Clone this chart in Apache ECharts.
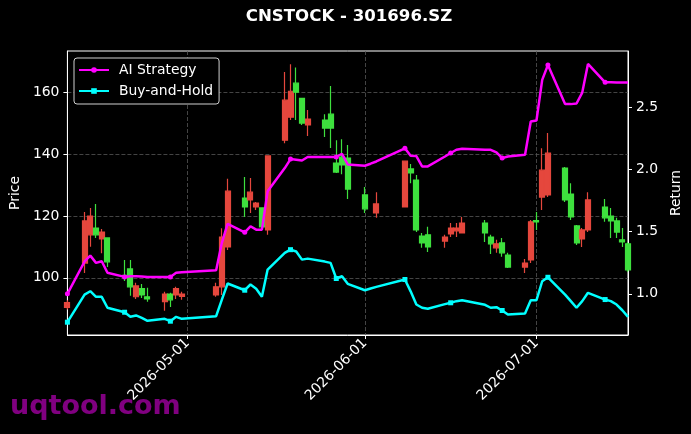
<!DOCTYPE html>
<html>
<head>
<meta charset="utf-8">
<script src="https://cdn.jsdelivr.net/npm/echarts@6/dist/echarts.min.js"></script>
<style>
html, body { margin: 0; padding: 0; background: #000; }
#chart { width: 691px; height: 434px; }
</style>
</head>
<body>
<div id="chart"></div>
<script>
// 交易日 (Jun 2 只有收益曲线, 没有K线)
var dates = [
    '2026-04-10', '2026-04-13', '2026-04-14', '2026-04-15', '2026-04-16', '2026-04-17',
    '2026-04-20', '2026-04-21', '2026-04-22', '2026-04-23', '2026-04-24',
    '2026-04-27', '2026-04-28', '2026-04-29', '2026-04-30',
    '2026-05-06', '2026-05-07', '2026-05-08',
    '2026-05-11', '2026-05-12', '2026-05-13', '2026-05-14', '2026-05-15',
    '2026-05-18', '2026-05-19', '2026-05-20', '2026-05-21', '2026-05-22',
    '2026-05-25', '2026-05-26', '2026-05-27', '2026-05-28', '2026-05-29',
    '2026-06-01', '2026-06-02', '2026-06-03',
    '2026-06-08', '2026-06-09', '2026-06-10', '2026-06-11', '2026-06-12',
    '2026-06-15', '2026-06-16', '2026-06-17', '2026-06-18',
    '2026-06-22', '2026-06-23', '2026-06-24', '2026-06-25', '2026-06-26',
    '2026-06-29', '2026-06-30', '2026-07-01', '2026-07-02', '2026-07-03',
    '2026-07-06', '2026-07-07', '2026-07-08', '2026-07-09', '2026-07-10',
    '2026-07-13', '2026-07-14', '2026-07-15', '2026-07-16', '2026-07-17'
];

var opens = [
    90.5, 104.8, 113.9, 116.1, 112.6, 112.9,
    100.8, 102.9, 93.9, 96.5, 93.9,
    92.3, 94.8, 94.5, 94.0,
    94.5, 97.1, 110.0,
    125.8, 125.2, 122.9, 122.6, 115.5,
    144.5, 151.9, 162.9, 158.0, 149.4,
    151.0, 152.9, 137.1, 139.0, 138.7,
    126.8, null, 121.0,
    122.9, 135.2, 131.6, 113.5, 113.9,
    111.9, 114.2, 115.2, 114.5,
    117.7, 113.2, 109.7, 111.3, 107.4,
    103.5, 105.8, 118.5, 126.1, 126.8,
    135.5, 127.1, 116.8, 112.6, 115.5,
    122.9, 120.0, 118.4, 112.3, 111.0
];
var closes = [
    92.0, 118.4, 120.0, 113.9, 114.8, 105.2,
    100.4, 97.1, 97.4, 94.5, 93.2,
    94.8, 92.9, 96.5, 94.8,
    97.1, 113.2, 128.0,
    122.9, 127.7, 124.2, 116.5, 139.4,
    157.4, 160.3, 160.0, 150.0, 151.3,
    148.4, 148.4, 134.2, 136.5, 128.7,
    122.3, null, 123.9,
    137.7, 133.9, 115.5, 111.3, 110.0,
    113.2, 116.1, 116.1, 117.7,
    114.5, 111.0, 111.0, 108.1, 103.5,
    104.8, 118.1, 118.1, 134.8, 140.3,
    125.2, 119.7, 111.3, 115.5, 125.2,
    119.4, 118.4, 114.8, 111.6, 102.6
];
var lows = [
    89.8, 101.6, 110.1, 112.9, 108.0, 103.5,
    99.0, 94.2, 93.2, 93.5, 92.3,
    89.4, 90.6, 93.2, 92.9,
    93.9, 94.5, 109.0,
    119.7, 121.0, 121.9, 116.5, 113.9,
    143.5, 151.0, 151.0, 149.4, 145.8,
    145.5, 142.0, 133.9, 133.5, 125.5,
    121.0, null, 119.4,
    122.9, 130.6, 114.8, 109.7, 108.4,
    109.7, 113.2, 113.2, 114.5,
    111.6, 107.7, 108.1, 106.8, 103.2,
    101.6, 104.8, 115.5, 121.9, 126.1,
    124.5, 118.7, 110.6, 110.0, 114.8,
    118.1, 112.9, 112.9, 110.0, 102.0
];
var highs = [
    92.8, 121.3, 122.6, 123.9, 115.8, 112.9,
    105.8, 105.8, 98.4, 98.0, 96.8,
    95.5, 95.2, 97.1, 95.5,
    98.4, 116.0, 132.0,
    132.6, 132.3, 124.5, 122.6, 139.4,
    166.5, 169.0, 168.0, 158.0, 154.2,
    152.9, 162.0, 144.5, 144.8, 142.9,
    129.4, null, 127.7,
    137.7, 136.8, 133.2, 114.5, 116.5,
    113.9, 117.7, 117.7, 119.7,
    118.7, 113.9, 112.3, 112.9, 108.1,
    106.1, 118.7, 121.3, 141.9, 146.8,
    135.8, 130.6, 117.1, 116.1, 127.7,
    125.5, 122.6, 119.4, 116.1, 111.5
];

// 累计收益
var aiReturn = [
    1.0, 1.26, 1.307, 1.249, 1.262, 1.169,
    1.136, 1.141, 1.141, 1.139, 1.136,
    1.136, 1.136, 1.169, 1.173,
    1.19, 1.41, 1.562,
    1.494, 1.543, 1.516, 1.516, 1.824,
    2.011, 2.083, 2.078, 2.072, 2.1,
    2.1, 2.1, 2.1, 2.126, 2.04,
    2.03, 2.046, 2.064,
    2.17, 2.11, 2.107, 2.024, 2.024,
    2.104, 2.132, 2.158, 2.166,
    2.158, 2.158, 2.137, 2.091, 2.104,
    2.118, 2.385, 2.393, 2.72, 2.84,
    2.525, 2.525, 2.53, 2.618, 2.848,
    2.70, 2.70, 2.698, 2.698, 2.698
];
var bhReturn = [
    0.772, 0.994, 1.021, 0.976, 0.976, 0.888,
    0.852, 0.815, 0.826, 0.807, 0.783,
    0.799, 0.78, 0.815, 0.799,
    0.82, 0.954, 1.083,
    1.029, 1.075, 1.04, 0.976, 1.195,
    1.329, 1.355, 1.34, 1.275, 1.283,
    1.259, 1.249, 1.123, 1.141, 1.08,
    1.029, 1.043, 1.056,
    1.115, 1.02, 0.914, 0.888, 0.88,
    0.917, 0.928, 0.941, 0.949,
    0.912, 0.888, 0.893, 0.866, 0.834,
    0.842, 0.949, 0.949, 1.101, 1.133,
    0.994, 0.941, 0.888, 0.941, 1.008,
    0.954, 0.941, 0.914, 0.868, 0.815
];

var priceTicks = [100, 120, 140, 160];
var returnTicks = [1.0, 1.5, 2.0, 2.5];
var dateTicks = ['2026-05-01', '2026-06-01', '2026-07-01'];

function ts(s) {
    var p = s.split('-');
    return new Date(+p[0], +p[1] - 1, +p[2]).getTime();
}
function pad(n) { return n < 10 ? '0' + n : '' + n; }
function fmtDate(v) {
    var d = new Date(v);
    return d.getFullYear() + '-' + pad(d.getMonth() + 1) + '-' + pad(d.getDate());
}

// K线数据 [时间, 开, 收, 低, 高]
var candleData = [];
for (var i = 0; i < dates.length; i++) {
    if (opens[i] == null) continue;
    candleData.push([ts(dates[i]), opens[i], closes[i], lows[i], highs[i]]);
}
var aiData = dates.map(function (d, i) { return [ts(d), aiReturn[i]]; });
var bhData = dates.map(function (d, i) { return [ts(d), bhReturn[i]]; });

// 每6个点画一个标记
function markEvery(v, p) { return p.dataIndex % 6 === 0 ? 5 : 0; }

var font = 'DejaVu Sans';
var myChart = echarts.init(document.getElementById('chart'));

var option = {
    backgroundColor: '#000',
    animation: false,
    textStyle: { fontFamily: font },
    graphic: [
        {
            type: 'text', x: 349, y: 17, z: 10,
            style: { text: 'CNSTOCK - 301696.SZ', fill: '#fff', font: 'bold 16.6px ' + font,
                     textAlign: 'center', textVerticalAlign: 'middle' }
        },
        {
            type: 'text', left: 10, top: 393, z: -1,
            style: { text: 'uqtool.com', fill: '#800080', font: 'bold 27px ' + font }
        }
    ],
    legend: {
        orient: 'vertical',
        left: 74,
        top: 58,
        padding: [5, 6, 6, 4],
        itemWidth: 30,
        itemHeight: 7,
        itemGap: 7,
        borderColor: '#d0d0d0',
        borderWidth: 1,
        borderRadius: 3,
        backgroundColor: '#000',
        textStyle: { color: '#fff', fontSize: 13.9, fontFamily: font, padding: [0, 0, 0, 5] },
        data: ['AI Strategy', 'Buy-and-Hold']
    },
    grid: {
        left: 67, right: 61, top: 51, bottom: 99,
        show: true, borderColor: '#fff', borderWidth: 1
    },
    xAxis: {
        type: 'value',
        min: ts(dates[0]),
        max: ts(dates[dates.length - 1]),
        axisLine: { lineStyle: { color: '#fff', width: 1 } },
        axisTick: { length: 4, lineStyle: { color: '#fff' }, customValues: dateTicks.map(ts) },
        axisLabel: {
            color: '#fff', fontSize: 13.9, rotate: 45, margin: 6,
            customValues: dateTicks.map(ts),
            formatter: fmtDate
        },
        splitLine: { show: true, lineStyle: { color: '#555', type: [4, 2], width: 0.8 } }
    },
    yAxis: [
        {
            type: 'value',
            position: 'left',
            min: 81.55,
            max: 173.3,
            name: 'Price',
            nameLocation: 'middle',
            nameGap: 41,
            nameRotate: 90,
            nameTextStyle: { color: '#fff', fontSize: 13.9 },
            axisLine: { show: true, lineStyle: { color: '#fff' } },
            axisTick: { show: true, length: 4, lineStyle: { color: '#fff' }, customValues: priceTicks },
            axisLabel: { color: '#fff', fontSize: 13.9, margin: 8, customValues: priceTicks },
            splitLine: { show: true, lineStyle: { color: '#555', type: [4, 2], width: 0.8 } }
        },
        {
            type: 'value',
            position: 'right',
            min: 0.669,
            max: 2.952,
            name: 'Return',
            nameLocation: 'middle',
            nameGap: 33,
            nameRotate: 90,
            nameTextStyle: { color: '#fff', fontSize: 13.9 },
            axisLine: { show: true, lineStyle: { color: '#fff' } },
            axisTick: { show: true, length: 4, lineStyle: { color: '#fff' }, customValues: returnTicks },
            axisLabel: {
                color: '#fff', fontSize: 13.9, margin: 8, customValues: returnTicks,
                formatter: function (v) { return v.toFixed(1); }
            },
            splitLine: { show: false }
        }
    ],
    series: [
        {
            name: 'Price',
            type: 'candlestick',
            yAxisIndex: 0,
            barWidth: 5.5,
            encode: { x: 0, y: [1, 2, 3, 4] },
            itemStyle: {
                color: '#e5473d', color0: '#3ee03e',
                borderColor: '#e5473d', borderColor0: '#3ee03e', borderWidth: 1.2
            },
            data: candleData
        },
        {
            name: 'AI Strategy',
            type: 'line',
            yAxisIndex: 1,
            symbol: 'circle',
            symbolSize: markEvery,
            showSymbol: true,
            lineStyle: { color: '#ff00ff', width: 2.5 },
            itemStyle: { color: '#ff00ff' },
            data: aiData,
            z: 5
        },
        {
            name: 'Buy-and-Hold',
            type: 'line',
            yAxisIndex: 1,
            symbol: 'rect',
            symbolSize: markEvery,
            showSymbol: true,
            lineStyle: { color: '#00ffff', width: 2.5 },
            itemStyle: { color: '#00ffff' },
            data: bhData,
            z: 4
        }
    ]
};

myChart.setOption(option);
</script>
</body>
</html>
